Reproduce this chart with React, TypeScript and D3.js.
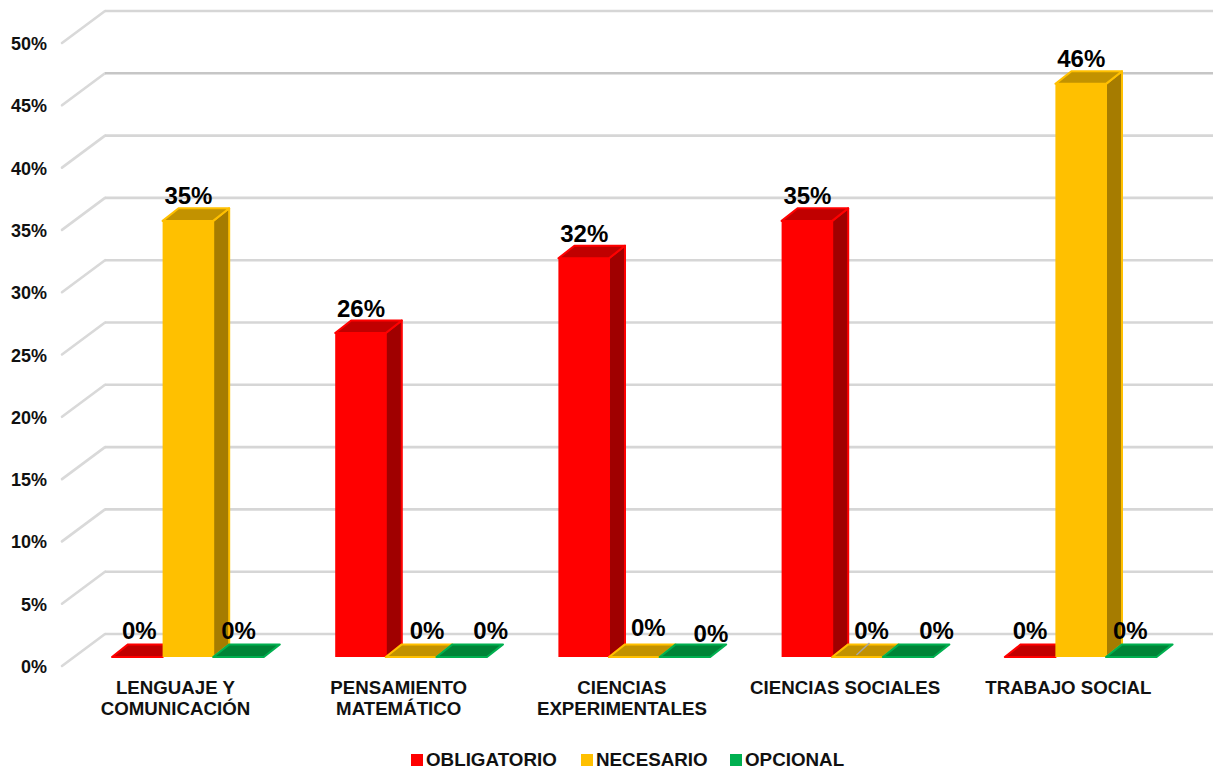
import React from "react";
import * as d3 from "d3";

const categories = [["LENGUAJE Y", "COMUNICACIÓN"], ["PENSAMIENTO", "MATEMÁTICO"], ["CIENCIAS", "EXPERIMENTALES"], ["CIENCIAS SOCIALES"], ["TRABAJO SOCIAL"]];
const seriesNames = ["OBLIGATORIO", "NECESARIO", "OPCIONAL"];
const obligatorio = [0, 26, 32, 35, 0];
const necesario = [35, 0, 0, 0, 46];
const opcional = [0, 0, 0, 0, 0];
const ticks = [0, 5, 10, 15, 20, 25, 30, 35, 40, 45, 50];

const faces = [
  { front: "#FF0000", top: "#C00000", side: "#A00000" },
  { front: "#FFC000", top: "#C29200", side: "#A67C00" },
  { front: "#00B050", top: "#008437", side: "#006F30" },
];
const series = [obligatorio, necesario, opcional];

// label nudges for the flat 0% labels [dx, dy] per series, per category
const zeroNudges: [number, number][][] = [
  [[2, 0], [0, 0], [0, 0], [0, 0], [0, 0]],
  [[0, 0], [16, 0], [14, -3], [14, 0], [0, 0]],
  [[0, 0], [29, 0], [26, 3], [28.5, 0], [-1, 0]],
];

const DX = 16;
const DY = 12.6;
const font = "'Liberation Sans', Arial, sans-serif";

export default function App() {
  const y = d3.scaleLinear().domain([0, 50]).range([657, 34]);
  const x0 = d3.scaleBand<number>().domain(d3.range(5)).range([0, 1116]).paddingInner(0).paddingOuter(0);
  const barW = 50.6;
  const groupX = (i: number) => 112 + x0(i)!;
  const poly = (pts: [number, number][]) => d3.line()(pts)! + "Z";

  return (
    <svg width={1213} height={770} style={{ position: "absolute", left: 0, top: 0, background: "#fff" }} fontFamily={font}>
      {ticks.map((t) => {
        const gy = y(t) - 23;
        return (
          <g key={t}>
            <path d={`M62,${gy + 32}L105,${gy}`} fill="none" stroke="#d9d9d9" strokeWidth={2.6} strokeLinecap="round" />
            <path d={`M105,${gy}L1213,${gy}`} fill="none" stroke={t === 45 ? "#c6c6c6" : "#d6d6d6"} strokeWidth={2.6} />
            <text x={47} y={gy + 33} textAnchor="end" dominantBaseline="central" fontSize={18} fontWeight={700} fill="#111">{t}%</text>
          </g>
        );
      })}
      {categories.map((_, i) => (
        <g key={i}>
          {series.map((vals, s) => {
            const xl = groupX(i) + s * barW;
            const xr = xl + barW;
            const yt = y(vals[i]);
            const yb = y(0);
            const c = faces[s];
            return (
              <g key={s} stroke={c.front} strokeWidth={2} strokeLinejoin="round">
                {vals[i] > 0 && <path d={poly([[xr, yt], [xr + DX, yt - DY], [xr + DX, yb - DY], [xr, yb]])} fill={c.side} />}
                <path d={poly([[xl, yt], [xl + DX, yt - DY], [xr + DX, yt - DY], [xr, yt]])} fill={c.top} />
                {vals[i] > 0 && <rect x={xl} y={yt} width={barW} height={yb - yt} fill={c.front} stroke="none" />}
              </g>
            );
          })}
        </g>
      ))}
      <line x1={groupX(3) + barW * 1.5 - 1} y1={655} x2={groupX(3) + barW * 1.5 + 12} y2={643} stroke="#a6a6a6" strokeWidth={1.5} />
      {categories.map((_, i) =>
        series.map((vals, s) => {
          const v = vals[i];
          const [dx, dy] = v === 0 ? zeroNudges[s][i] : [0.5, 0];
          const cx = groupX(i) + (s + 0.5) * barW + dx;
          const cy = v === 0 ? y(0) - 26.5 + dy : y(v) - 25;
          return (
            <text key={`${i}-${s}`} x={cx} y={cy} textAnchor="middle" dominantBaseline="central" fontSize={24} fontWeight={700} fill="#000">{v}%</text>
          );
        })
      )}
      {categories.map((lines, i) => (
        <text key={i} x={groupX(i) + 63.5} y={687} textAnchor="middle" dominantBaseline="central" fontSize={18.7} fontWeight={700} fill="#111">
          {lines.map((l, k) => (
            <tspan key={k} x={groupX(i) + 63.5} dy={k === 0 ? 0 : 20.5}>{l}</tspan>
          ))}
        </text>
      ))}
      {seriesNames.map((n, s) => {
        const sx = [411, 581, 730][s];
        return (
          <g key={n}>
            <rect x={sx} y={754} width={12} height={12} fill={faces[s].front} />
            <text x={sx + 15} y={759} dominantBaseline="central" fontSize={18.8} fontWeight={700} fill="#111">{n}</text>
          </g>
        );
      })}
    </svg>
  );
}
